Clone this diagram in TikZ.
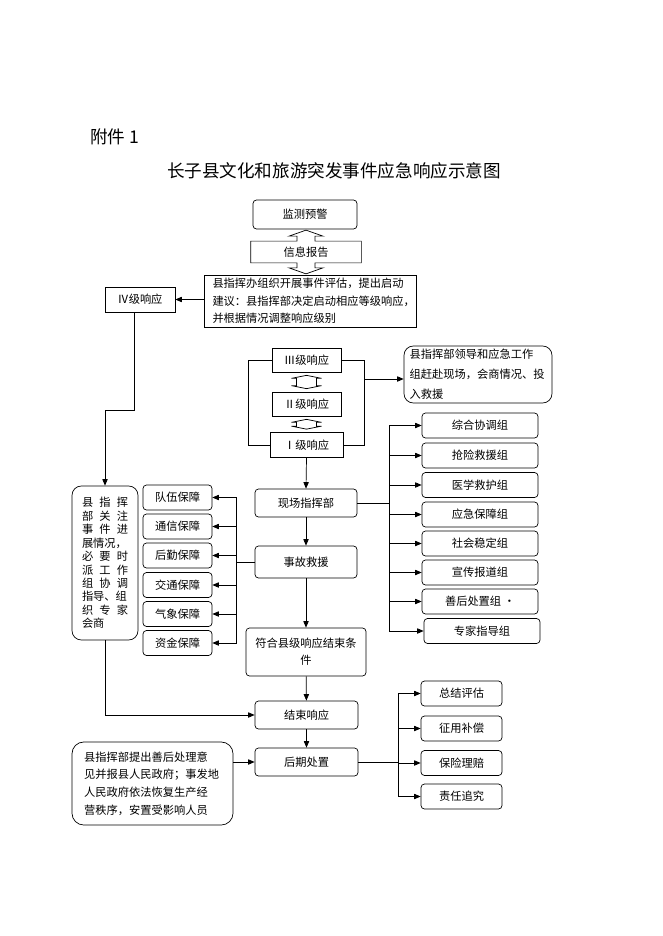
\documentclass[tikz,border=0pt]{standalone}
\usepackage{fontspec}
\setmainfont{Noto Sans CJK SC}
\usetikzlibrary{arrows.meta,calc}

\tikzset{bb/.style={draw, rounded corners=3pt, inner sep=0pt, align=center, minimum height=0.75cm}}
\tikzset{sq/.style={draw, inner sep=0pt, align=center, minimum height=0.75cm}}

\newcommand\updown[2]{\draw ($(#1.south)+(0,3)$) -- ++(15,3) -- ++(-5,0) -- ($(#2.north)+(10,-6)$) -- ++(5,0) -- ($(#2.north)+(0,-3)$) -- ++(-15,-3) -- ++(5,0) -- ($(#1.south)+(-10,6)$) -- ++(-5,0) -- cycle;}

\begin{document}
\begin{tikzpicture}[x=0.03cm, y=-0.03cm, line width=0.6pt, >={Triangle[length=5.5pt,width=4.5pt]}, font=\fontsize{9.6}{14}\selectfont]
    \useasboundingbox (0,0) rectangle (662,936);

    \node[anchor=west, font=\fontsize{15}{18}\selectfont] (annex) at (86,136.5) {附件 1};
    \node[font=\fontsize{15}{18}\selectfont] (title) at (334,171) {长子县文化和旅游突发事件应急响应示意图};

    \node[bb, minimum width=3.12cm, minimum height=0.87cm] (monitor) at (305,214.5) {监测预警};

    \node[inner sep=0pt, minimum width=3.3cm, minimum height=0.63cm] (report) at (306,252) {信息报告};

    \node[sq, minimum width=6.36cm, minimum height=1.56cm, text width=5.85cm, align=left, font=\fontsize{9.6}{14.9}\selectfont] (assess) at (310,301) {县指挥办组织开展事件评估，提出启动\\建议：县指挥部决定启动相应等级响应，\\并根据情况调整响应级别};

    \node[sq, minimum width=2.1cm] (lvfour) at (140,299.5) {Ⅳ级响应};

    \node[sq, minimum width=2.07cm, minimum height=0.72cm] (lvthree) at (306.5,360) {Ⅲ级响应};
    \node[sq, minimum width=2.07cm, minimum height=0.72cm] (lvtwo) at (306.5,404) {Ⅱ级响应};
    \node[sq, minimum width=2.19cm] (lvone) at (306.5,445) {Ⅰ级响应};

    \node[bb, rounded corners=8pt, minimum width=4.44cm, minimum height=1.71cm, text width=4.1cm, align=left, font=\fontsize{9.6}{17}\selectfont] (leader) at (478,374.5) {县指挥部领导和应急工作\\组赶赴现场，会商情况、投\\入救援};

    \node[bb, minimum width=3.06cm, minimum height=0.84cm] (command) at (306,503) {现场指挥部};
    \node[bb, minimum width=3.06cm, minimum height=0.96cm] (rescue) at (306,562) {事故救援};
    \node[bb, minimum width=3.6cm, minimum height=1.44cm, text width=3.4cm, font=\fontsize{9.6}{14.5}\selectfont] (criteria) at (306,652) {符合县级响应结束条\\件};
    \node[bb, minimum width=3.09cm, minimum height=0.84cm] (closing) at (306.5,715) {结束响应};
    \node[bb, minimum width=3.09cm, minimum height=0.84cm] (aftermath) at (306.5,762) {后期处置};

    \node[bb, rounded corners=8pt, minimum width=1.98cm, minimum height=4.62cm, text width=1.38cm, align=left, font=\fontsize{9.6}{11.5}\selectfont] (follow) at (105,563) {县\hfill 指\hfill 挥\\部\hfill 关\hfill 注\\事\hfill 件\hfill 进\\展情况，\\必\hfill 要\hfill 时\\派\hfill 工\hfill 作\\组\hfill 协\hfill 调\\指导、组\\织\hfill 专\hfill 家\\会商\\[4pt]};

    \node[bb, rounded corners=10pt, minimum width=4.83cm, minimum height=2.49cm, text width=4.1cm, align=left, font=\fontsize{9.6}{15}\selectfont] (advice) at (152.5,783.5) {县指挥部提出善后处理意\\见并报县人民政府；事发地\\人民政府依法恢复生产经\\营秩序，安置受影响人员};

    \node[bb, minimum width=2.07cm] (team) at (177.5,497.5) {队伍保障};
    \node[bb, minimum width=2.07cm] (comms) at (177.5,526.5) {通信保障};
    \node[bb, minimum width=2.07cm] (logistics) at (177.5,555.5) {后勤保障};
    \node[bb, minimum width=2.07cm] (traffic) at (177.5,585) {交通保障};
    \node[bb, minimum width=2.07cm] (weather) at (177.5,614) {气象保障};
    \node[bb, minimum width=2.07cm] (funds) at (177.5,643) {资金保障};

    \node[bb, minimum width=3.48cm] (coord) at (480,425.5) {综合协调组};
    \node[bb, minimum width=3.48cm] (salvage) at (480,455.5) {抢险救援组};
    \node[bb, minimum width=3.48cm] (medical) at (480,485) {医学救护组};
    \node[bb, minimum width=3.48cm] (support) at (480,514.5) {应急保障组};
    \node[bb, minimum width=3.48cm] (stability) at (480,543.5) {社会稳定组};
    \node[bb, minimum width=3.48cm] (publicity) at (480,572.5) {宣传报道组};
    \node[bb, minimum width=3.48cm] (relief) at (480,601.5) {善后处置组 •};
    \node[bb, minimum width=3.48cm] (expert) at (482,631) {专家指导组};

    \node[bb, minimum width=2.43cm] (review) at (461.5,693.5) {总结评估};
    \node[bb, minimum width=2.43cm] (compensate) at (461.5,728.5) {征用补偿};
    \node[bb, minimum width=2.43cm] (insurance) at (461.5,763) {保险理赔};
    \node[bb, minimum width=2.43cm] (account) at (461.5,796.5) {责任追究};

    \draw (report.north west) -- ($(report.north)+(-9,0)$) -- ++(0,-5) -- ++(-8,0) -- ($(report.north)+(0,-11)$) -- ($(report.north)+(17,-5)$) -- ++(-8,0) -- ++(0,5) -- (report.north east) -- (report.south east) -- ($(report.south)+(9,0)$) -- ++(0,5) -- ++(8,0) -- ($(report.south)+(0,11)$) -- ($(report.south)+(-17,5)$) -- ++(8,0) -- ++(0,-5) -- (report.south west) -- cycle;

    \draw[->] (assess.west |- lvfour.east) -- (lvfour.east);

    \draw[->] ([xshift=-0.18cm]lvfour.south) -- ++(0,98) -| (follow.north);

    \draw (lvthree.west) -- ++(-23,0) |- (lvone.west);
    \draw (lvthree.east) -- ++(23,0) |- (lvone.east);

    \updown{lvthree}{lvtwo}
    \updown{lvtwo}{lvone}

    \coordinate (rbr) at ([xshift=0.69cm, yshift=-0.57cm]lvthree.east);
    \draw[->] (rbr) -- (rbr -| leader.west);

    \draw[->] (lvone.south) -- (command.north);
    \draw[->] (command) -- (rescue);
    \draw[->] (rescue) -- (criteria);
    \draw[->] (criteria) -- (closing);
    \draw[->] (closing) -- (aftermath);

    \coordinate (gbus) at ([xshift=0.96cm]command.east);
    \draw (command.east) -- (gbus);
    \draw (gbus |- coord.west) -- (gbus |- expert.west);
    \draw[->] (gbus |- coord.west) -- (coord.west);
    \draw[->] (gbus |- salvage.west) -- (salvage.west);
    \draw[->] (gbus |- medical.west) -- (medical.west);
    \draw[->] (gbus |- support.west) -- (support.west);
    \draw[->] (gbus |- stability.west) -- (stability.west);
    \draw[->] (gbus |- publicity.west) -- (publicity.west);
    \draw[->] (gbus |- relief.west) -- (relief.west);
    \draw[->] (gbus |- expert.west) -- (expert.west);

    \coordinate (sbus) at ([xshift=-0.54cm]rescue.west);
    \draw (rescue.west) -- (sbus);
    \draw (sbus |- team.east) -- (sbus |- funds.east);
    \draw[->] (sbus |- team.east) -- (team.east);
    \draw[->] (sbus |- comms.east) -- (comms.east);
    \draw[->] (sbus |- logistics.east) -- (logistics.east);
    \draw[->] (sbus |- traffic.east) -- (traffic.east);
    \draw[->] (sbus |- weather.east) -- (weather.east);
    \draw[->] (sbus |- funds.east) -- (funds.east);

    \draw[->] (follow.south) |- (closing.west);

    \draw[->] (advice.east |- aftermath.west) -- (aftermath.west);

    \coordinate (pbus) at ([xshift=1.2cm]aftermath.east);
    \draw (aftermath.east) -- (pbus);
    \draw (pbus |- review.west) -- (pbus |- account.west);
    \draw[->] (pbus |- review.west) -- (review.west);
    \draw[->] (pbus |- compensate.west) -- (compensate.west);
    \draw[->] (pbus |- insurance.west) -- (insurance.west);
    \draw[->] (pbus |- account.west) -- (account.west);

\end{tikzpicture}
\end{document}
